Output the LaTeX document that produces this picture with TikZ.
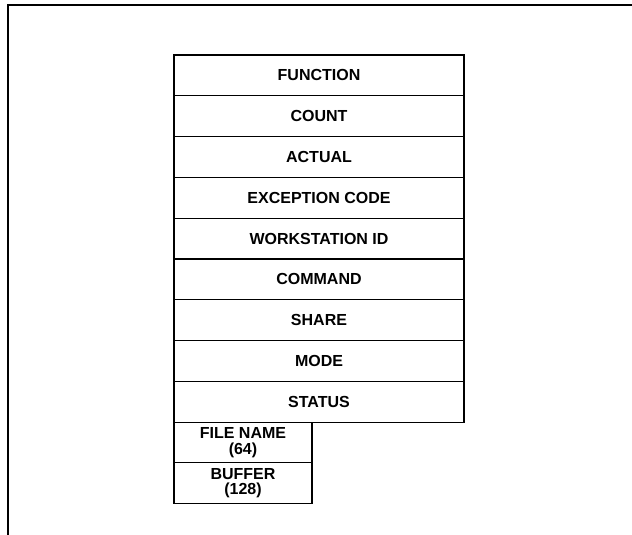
\documentclass[tikz,border=0pt]{standalone}
\usepackage{fontspec}
\setmainfont{Liberation Sans}
\usetikzlibrary{positioning}
\tikzset{
  fcb field/.style={
    rectangle,
    draw=black,
    line width=1.2pt,
    minimum width=290pt,
    minimum height=40.8pt,
    outer sep=0pt,
    inner sep=0pt,
    align=center,
    font=\fontsize{16}{15.5}\selectfont\bfseries,
  },
}
\tikzset{
  fcb small/.style={
    fcb field,
    minimum width=138pt,
    minimum height=40.5pt,
  },
}
\tikzset{
  fcb frame/.style={
    draw=black,
    line width=2.2pt,
  },
}

\begin{document}
\begin{tikzpicture}[x=1pt, y=-1pt, node distance=0pt]

  % =========================================================================
  % page size and outer frame (top and left rules only)
  % =========================================================================
  \useasboundingbox (0,0) rectangle (632,535);
  \coordinate (frame_bl) at (8,535);
  \coordinate (frame_tl) at (8,5);
  \coordinate (frame_tr) at (632,5);
  \draw[fcb frame] (frame_bl) -- (frame_tl) -- (frame_tr);

  % =========================================================================
  % control block fields, stacked from the top
  % =========================================================================
  \node[fcb field, anchor=north west] (func) at (174,55) {FUNCTION};
  \node[fcb field, below=of func]   (count)  {COUNT};
  \node[fcb field, below=of count]  (actual) {ACTUAL};
  \node[fcb field, below=of actual] (excode) {EXCEPTION CODE};
  \node[fcb field, below=of excode] (wsid)   {WORKSTATION ID};
  \node[fcb field, below=of wsid]   (cmd)    {COMMAND};
  \node[fcb field, below=of cmd]    (share)  {SHARE};
  \node[fcb field, below=of share]  (mode)   {MODE};
  \node[fcb field, below=of mode]   (status) {STATUS};

  % =========================================================================
  % narrow fields with their lengths
  % =========================================================================
  \node[fcb small, anchor=north west] (fname) at (status.south west)
    {FILE NAME\\(64)};
  \node[fcb small, below=of fname] (buffer) {BUFFER\\(128)};

\end{tikzpicture}
\end{document}
